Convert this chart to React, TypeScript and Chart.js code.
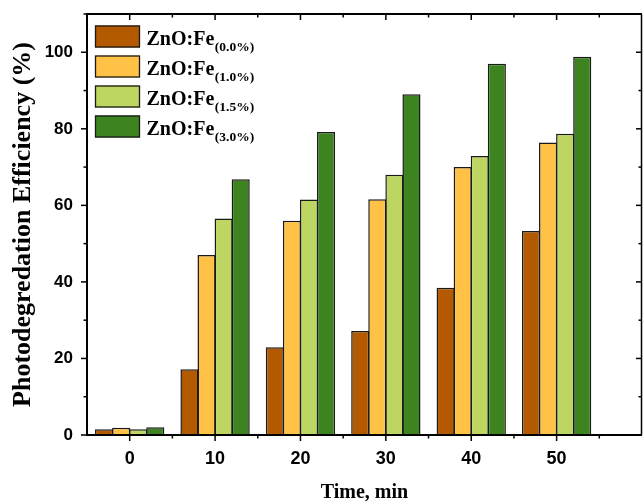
import React, { useEffect, useRef } from "react";
import { Chart, registerables } from "chart.js";

Chart.register(...registerables);

// ---- data ----
const times = [0, 10, 20, 30, 40, 50];
const fe00 = [1.5, 17.2, 22.9, 27.2, 38.5, 53.3];
const fe10 = [1.9, 47.0, 56.0, 61.6, 70.0, 76.4];
const fe15 = [1.5, 56.6, 61.5, 68.0, 72.9, 78.7];
const fe30 = [2.0, 66.8, 79.2, 89.0, 97.0, 98.8];

const seriesBase = "ZnO:Fe";
const dopings = ["(0.0%)", "(1.0%)", "(1.5%)", "(3.0%)"];
const colors = ["#B35900", "#FFC246", "#BDD561", "#3D8420"];

const xMajorTicks = [0, 10, 20, 30, 40, 50];
const xMinorTicks = [5, 15, 25, 35, 45, 55];
const yMajorTicks = [0, 20, 40, 60, 80, 100];
const yMinorTicks = [10, 30, 50, 70, 90, 110];

const xTitle = "Time, min";
const yTitle = "Photodegredation Efficiency (%)";

export default function App() {
  const ref = useRef<HTMLCanvasElement>(null);

  useEffect(() => {
    if (!ref.current) return;
    const series = [fe00, fe10, fe15, fe30];

    const framePlugin = {
      id: "frameTicksLegend",
      afterDraw(chart: any) {
        const { ctx, chartArea: a, scales } = chart;
        const xs = scales.x;
        const ys = scales.y;
        ctx.save();
        ctx.strokeStyle = "#000";
        ctx.lineCap = "butt";

        ctx.lineWidth = 1.5;
        const major = 6;
        const minor = 3.5;
        const line = (x1: number, y1: number, x2: number, y2: number) => {
          ctx.beginPath();
          ctx.moveTo(x1, y1);
          ctx.lineTo(x2, y2);
          ctx.stroke();
        };
        xMajorTicks.forEach((v) => {
          const px = xs.getPixelForValue(v);
          line(px, a.bottom, px, a.bottom + major);
          line(px, a.top, px, a.top + major);
        });
        xMinorTicks.forEach((v) => {
          const px = xs.getPixelForValue(v);
          line(px, a.bottom, px, a.bottom + minor);
          line(px, a.top, px, a.top + minor);
        });
        yMajorTicks.forEach((v) => {
          const py = ys.getPixelForValue(v);
          line(a.left, py, a.left - major, py);
          line(a.right, py, a.right - major, py);
        });
        yMinorTicks.forEach((v) => {
          const py = ys.getPixelForValue(v);
          line(a.left, py, a.left - minor, py);
          line(a.right, py, a.right - minor, py);
        });

        // frame
        ctx.lineWidth = 2;
        line(a.left, a.top, a.left, a.bottom + 1);
        line(a.left - 1, a.bottom, a.right, a.bottom);
        line(a.left - 1, a.top, a.right, a.top);
        ctx.lineWidth = 1.5;
        line(a.right - 0.5, a.top, a.right - 0.5, a.bottom);

        // legend
        const lx = a.left + 8;
        const ly0 = a.top + 11.5;
        const boxW = 45;
        const boxH = 22;
        const gap = 30;
        chart.data.datasets.forEach((ds: any, i: number) => {
          const ly = ly0 + i * gap;
          ctx.fillStyle = ds.backgroundColor;
          ctx.fillRect(lx, ly, boxW, boxH);
          ctx.lineWidth = 1.3;
          ctx.strokeStyle = "#1a1a1a";
          ctx.strokeRect(lx + 0.5, ly + 0.5, boxW - 1, boxH - 1);
          ctx.fillStyle = "#000";
          ctx.textAlign = "left";
          ctx.textBaseline = "alphabetic";
          ctx.font = "bold 20px 'Liberation Serif'";
          const tx = lx + boxW + 6.5;
          ctx.fillText(seriesBase, tx, ly + 19.5);
          const w = ctx.measureText(seriesBase).width;
          ctx.font = "bold 13.5px 'Liberation Serif'";
          ctx.fillText(dopings[i], tx + w + 0.5, ly + 25);
        });
        ctx.restore();
      },
    };

    const chart = new Chart(ref.current, {
      type: "bar",
      data: {
        datasets: series.map((vals, i) => ({
          label: seriesBase + dopings[i],
          data: times.map((t, j) => ({ x: t, y: vals[j] })),
          backgroundColor: colors[i],
          borderColor: "#1a1a1a",
          borderWidth: 1.5,
          categoryPercentage: 0.8,
          barPercentage: 1.06,
        })),
      },
      options: {
        responsive: false,
        maintainAspectRatio: false,
        devicePixelRatio: 1,
        animation: false,
        layout: { padding: { top: 14, right: 1, left: 0, bottom: 0 } },
        plugins: {
          legend: { display: false },
          tooltip: { enabled: false },
        },
        scales: {
          x: {
            type: "linear",
            offset: false,
            min: -5,
            max: 60,
            afterBuildTicks: (scale: any) => {
              scale.ticks = xMajorTicks.map((v) => ({ value: v }));
            },
            afterFit: (scale: any) => {
              scale.height = 66;
              scale.paddingLeft = 0;
              scale.paddingRight = 0;
            },
            grid: { display: false, drawTicks: false },
            border: { display: false },
            ticks: {
              padding: 13,
              color: "#000",
              font: { family: "'Liberation Sans'", size: 18, weight: "bold" },
              callback: (v: any) => String(v),
            },
            title: {
              display: true,
              text: xTitle,
              color: "#000",
              font: { family: "'Liberation Serif'", size: 20, weight: "bold", lineHeight: 0.8 },
              padding: { top: 0, bottom: 0 },
            },
          },
          y: {
            type: "linear",
            min: 0,
            max: 110,
            afterBuildTicks: (scale: any) => {
              scale.ticks = yMajorTicks.map((v) => ({ value: v }));
            },
            afterFit: (scale: any) => {
              scale.width = 87;
              scale.paddingTop = 0;
              scale.paddingBottom = 0;
            },
            grid: { display: false, drawTicks: false },
            border: { display: false },
            ticks: {
              padding: 14,
              color: "#000",
              font: { family: "'Liberation Sans'", size: 17, weight: "bold" },
            },
            title: {
              display: true,
              text: yTitle,
              color: "#000",
              font: { family: "'Liberation Serif'", size: 26, weight: "bold", lineHeight: 1 },
              padding: { top: 10, bottom: 0 },
            },
          },
        },
      },
      plugins: [framePlugin],
    } as any);

    return () => chart.destroy();
  }, []);

  return (
    <div style={{ position: "absolute", left: 0, top: 0, width: 643, height: 501 }}>
      <canvas ref={ref} width={643} height={501} style={{ display: "block" }} />
    </div>
  );
}
